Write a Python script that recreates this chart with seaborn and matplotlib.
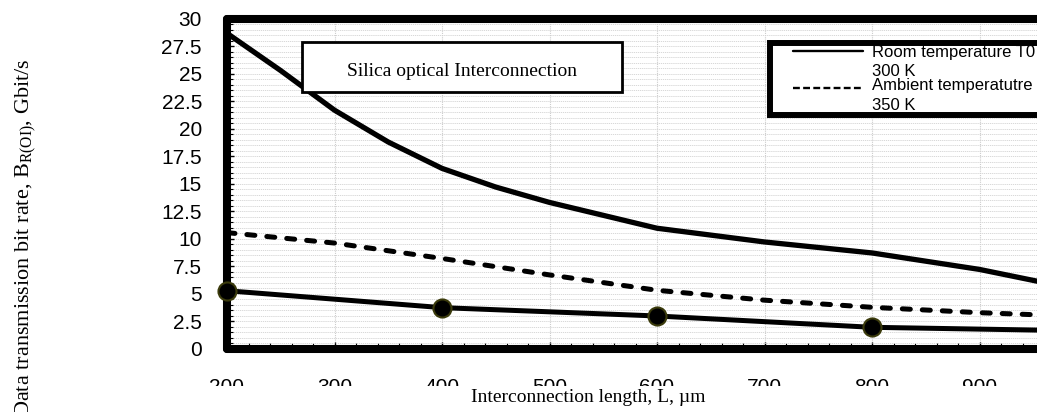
import numpy as np
import matplotlib
matplotlib.use("Agg")
import matplotlib.pyplot as plt
import seaborn as sns
from matplotlib.lines import Line2D
from matplotlib.legend_handler import HandlerLine2D
from matplotlib.patches import Rectangle
from matplotlib.ticker import MultipleLocator
from matplotlib.transforms import Bbox, TransformedBbox

# ---- data -------------------------------------------------------------
room_lengths = [200, 250, 300, 350, 400, 450, 500, 600, 700, 800, 900, 1000]
rate_room = [28.7, 25.3, 21.7, 18.8, 16.4, 14.7, 13.3, 10.95, 9.7, 8.7, 7.2, 5.2]
lengths = [200, 300, 400, 500, 600, 700, 800, 900, 1000]
rate_ambient = [10.55, 9.6, 8.2, 6.7, 5.3, 4.4, 3.75, 3.26, 2.9]
marked_lengths = [200, 400, 600, 800, 1000]
rate_marked = [5.26, 3.72, 2.96, 1.93, 1.6]

x_ticks = [200, 300, 400, 500, 600, 700, 800, 900, 1000]
y_ticks = [0, 2.5, 5, 7.5, 10, 12.5, 15, 17.5, 20, 22.5, 25, 27.5, 30]
y_tick_labels = ["0", "2.5", "5", "7.5", "10", "12.5", "15", "17.5",
                 "20", "22.5", "25", "27.5", "30"]
legend_labels = ["Room temperature T0 =\n300 K",
                 "Ambient temperatutre T =\n350 K"]
title_text = "Silica optical Interconnection"
x_label = "Interconnection length, L, \u00b5m"
y_label = "Data transmission bit rate, B$_\\mathregular{R(OI)}$, Gbit/s"


class LiftedLineHandler(HandlerLine2D):
    """Line handle raised to sit beside the first line of a wrapped label."""

    def __init__(self, lift=0.0, **kw):
        super().__init__(**kw)
        self._lift = lift

    def create_artists(self, legend, orig_handle, xdescent, ydescent,
                       width, height, fontsize, trans):
        artists = super().create_artists(legend, orig_handle, xdescent,
                                         ydescent, width, height, fontsize,
                                         trans)
        for a in artists:
            a.set_ydata(np.asarray(a.get_ydata(), float) + self._lift * fontsize)
        return artists


sns.set_style("white")
plt.rcParams["font.family"] = ["Liberation Sans", "DejaVu Sans"]
plt.rcParams["mathtext.fontset"] = "custom"
plt.rcParams["mathtext.rm"] = "Liberation Serif"
plt.rcParams["text.color"] = "black"
plt.rcParams["axes.labelcolor"] = "black"
plt.rcParams["xtick.color"] = "black"
plt.rcParams["ytick.color"] = "black"

W, H = 1037, 412
fig = plt.figure(figsize=(W / 100, H / 100), dpi=100)
ax = fig.add_axes([227 / W, 1 - 348.5 / H, 860 / W, 329.5 / H])

# grid
ax.yaxis.set_minor_locator(MultipleLocator(0.5))
ax.xaxis.set_minor_locator(MultipleLocator(20))
ax.grid(which="both", axis="y", color="#d2d2d2", lw=0.6, ls=(0, (1.5, 1)))
ax.grid(which="major", axis="x", color="#cccccc", lw=0.8, ls=(0, (1, 1)))
ax.set_axisbelow(True)

# curves
sns.lineplot(x=room_lengths, y=rate_room, ax=ax, color="black", lw=3.8,
             solid_capstyle="round", solid_joinstyle="round")
sns.lineplot(x=lengths, y=rate_ambient, ax=ax, color="black", lw=3.6,
             linestyle=(0, (1.6, 2.4)), dash_capstyle="round")
sns.lineplot(x=marked_lengths, y=rate_marked, ax=ax, color="black", lw=3.6,
             marker="o", markersize=13, markerfacecolor="black",
             markeredgecolor="#3b3b0c", markeredgewidth=1.5,
             clip_on=False, zorder=3)

ax.set_xlim(200, 1000)
ax.set_ylim(0, 30)
ax.set_xticks(x_ticks)
ax.set_yticks(y_ticks)
ax.set_yticklabels(y_tick_labels)

for s in ax.spines.values():
    s.set_visible(True)
    s.set_color("black")
    s.set_linewidth(5.8)
    s.set_capstyle("round")
    s.set_joinstyle("round")

ax.tick_params(axis="both", which="both", direction="in", bottom=True,
               left=True, colors="black")
ax.tick_params(axis="x", which="major", length=5, width=1, pad=21,
               labelsize=15)
ax.tick_params(axis="x", which="minor", length=4.5, width=0.8)
ax.tick_params(axis="y", which="major", length=5, width=1, pad=18,
               labelsize=15)
ax.tick_params(axis="y", which="minor", length=4, width=0.8)

ax.set_xlabel(x_label, fontfamily="Liberation Serif", fontsize=14)
ax.xaxis.set_label_coords(0.4198, -0.124)
ax.set_ylabel(y_label, fontfamily="Liberation Serif", fontsize=16)
ax.yaxis.set_label_coords(-0.2182, 0.335)

# caption box inside the plot
ax.add_patch(Rectangle((0.0869, 0.7776), 0.3728, 0.1535,
                       transform=ax.transAxes, facecolor="white",
                       edgecolor="black", lw=2, zorder=4))
ax.text(0.2727, 0.827, title_text, transform=ax.transAxes, ha="center",
        va="baseline", fontfamily="Liberation Serif", fontsize=14, zorder=5)

# legend
handles = [Line2D([], [], color="black", lw=1.7),
           Line2D([], [], color="black", lw=1.7, linestyle=(0, (2.9, 1.4)))]
lifts = [0.66, 0.42]
leg = ax.legend(handles, legend_labels, loc="upper left",
                bbox_to_anchor=(770 / W, 1 - 42.5 / H),
                bbox_transform=fig.transFigure, borderaxespad=0,
                frameon=True, fancybox=False, framealpha=1,
                edgecolor="black", facecolor="white", borderpad=0.13,
                labelspacing=-0.1, handlelength=5.45, handletextpad=0.54,
                handler_map={h: LiftedLineHandler(lift=lf, xpad=1.26)
                             for h, lf in zip(handles, lifts)},
                prop={"family": "Liberation Sans", "size": 12})
leg.get_frame().set_linewidth(4.3)
leg.set_zorder(6)
for t in leg.get_texts():
    t.set_linespacing(1.4)
    t.set_color("black")

fig.canvas.draw()

# x tick labels are cut off along a horizontal line
tick_clip = TransformedBbox(Bbox([[0, 26 / H], [1, 1]]), fig.transFigure)
for lab in ax.get_xticklabels():
    lab.set_clip_box(tick_clip)
    lab.set_clip_on(True)

# legend text stays inside the frame
fb = leg.get_frame().get_window_extent(fig.canvas.get_renderer())
inner = Bbox.from_extents(fb.x0 + 3, fb.y0 + 3, fb.x1 - 3, fb.y1 - 3)
for t in leg.get_texts():
    t.set_clip_box(inner)
    t.set_clip_on(True)

fig.savefig("out.png", dpi=100)
